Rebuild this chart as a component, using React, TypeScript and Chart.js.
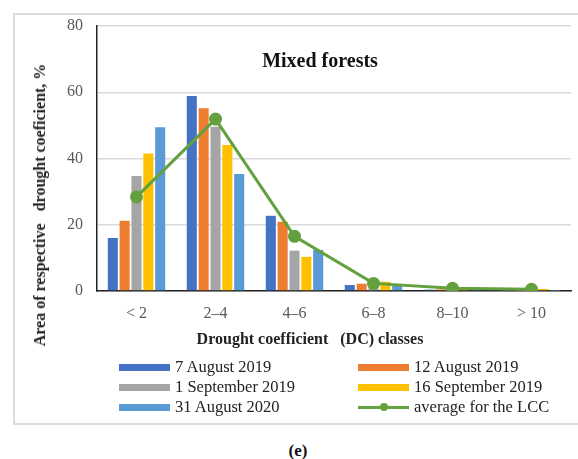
import React, { useEffect, useRef } from "react";
import { Chart, registerables } from "chart.js";

Chart.register(...registerables);

const categories = ["< 2", "2–4", "4–6", "6–8", "8–10", "> 10"];
const aug7_2019 = [16.0, 58.9, 22.7, 1.8, 0.4, 0.1];
const aug12_2019 = [21.2, 55.2, 20.9, 2.2, 0.5, 0.1];
const sep1_2019 = [34.7, 49.6, 12.2, 2.0, 0.4, 0.1];
const sep16_2019 = [41.5, 44.1, 10.3, 2.8, 0.5, 0.6];
const aug31_2020 = [49.4, 35.3, 12.4, 1.7, 0.3, 0.1];
const averageLCC = [28.4, 51.9, 16.5, 2.3, 0.8, 0.5];
const yTicks = [0, 20, 40, 60, 80];

const seriesNames = [
  "7 August 2019",
  "12 August 2019",
  "1 September 2019",
  "16 September 2019",
  "31 August 2020",
  "average for the LCC",
];
const colors = ["#4472C4", "#ED7D31", "#A5A5A5", "#FFC000", "#5B9BD5", "#63A03E"];

const FONT = "'Liberation Serif', 'Times New Roman', serif";

export default function App() {
  const ref = useRef<HTMLCanvasElement | null>(null);

  useEffect(() => {
    if (!ref.current) return;
    const barSets = [aug7_2019, aug12_2019, sep1_2019, sep16_2019, aug31_2020];
    const chart = new Chart(ref.current, {
      type: "bar",
      data: {
        labels: categories,
        datasets: [
          ...barSets.map((d, i) => ({
            type: "bar" as const,
            label: seriesNames[i],
            data: d,
            backgroundColor: colors[i],
            order: 1,
            categoryPercentage: 0.75,
            barPercentage: 0.85,
          })),
          {
            type: "line" as const,
            label: seriesNames[5],
            data: averageLCC,
            borderColor: colors[5],
            backgroundColor: colors[5],
            borderWidth: 3,
            pointRadius: 6.5,
            pointBorderWidth: 0,
            order: 0,
          },
        ] as any,
      },
      options: {
        responsive: false,
        animation: false,
        layout: { padding: { left: 0, right: 7, top: 26, bottom: 0 } },
        plugins: { legend: { display: false }, tooltip: { enabled: false }, title: { display: false } },
        scales: {
          x: {
            grid: { display: false, drawTicks: false },
            border: { display: true, color: "#222", width: 1.5 },
            ticks: { color: "#595959", font: { family: FONT, size: 16 }, padding: 13 },
            afterFit: (s: any) => {
              s.height = 59;
            },
          },
          y: {
            min: 0,
            max: 80,
            afterBuildTicks: (s: any) => {
              s.ticks = yTicks.map((v) => ({ value: v }));
            },
            grid: { color: "#d9d9d9", lineWidth: 1.5, drawTicks: false },
            border: { display: true, color: "#222", width: 1.5 },
            ticks: { color: "#595959", font: { family: FONT, size: 16 }, padding: 14 },
            afterFit: (s: any) => {
              s.width = 97;
            },
          },
        },
      },
    });
    return () => chart.destroy();
  }, []);

  const legendRow = (i: number, x: number, y: number) => (
    <div key={i} style={{ position: "absolute", left: x, top: y - 10, height: 20, display: "flex", alignItems: "center" }}>
      <div style={{ width: 51, height: 20, position: "relative" }}>
        {i < 5 ? (
          <div style={{ position: "absolute", left: 0, top: 6.5, width: 51, height: 7, background: colors[i] }} />
        ) : (
          <>
            <div style={{ position: "absolute", left: 0, top: 8.5, width: 51, height: 3, background: colors[i] }} />
            <div style={{ position: "absolute", left: 21.5, top: 6, width: 8, height: 8, borderRadius: 4, background: colors[i] }} />
          </>
        )}
      </div>
      <span style={{ marginLeft: 5, fontSize: 16.5, color: "#222", whiteSpace: "nowrap", fontFamily: FONT }}>{seriesNames[i]}</span>
    </div>
  );

  return (
    <div style={{ position: "fixed", left: 0, top: 0, width: 578, height: 459, background: "#fff", overflow: "hidden", fontFamily: FONT }}>
      <div style={{ position: "absolute", left: 13, top: 13, width: 700, height: 412, border: "2px solid #dcdcdc", boxSizing: "border-box" }} />
      <canvas ref={ref} width={578} height={350} style={{ position: "absolute", left: 0, top: 0 }} />
      <div style={{ position: "absolute", left: 320, top: 60, transform: "translate(-50%, -50%)", fontWeight: "bold", fontSize: 20, whiteSpace: "nowrap", color: "#111" }}>
        Mixed forests
      </div>
      <div style={{ position: "absolute", left: 40, top: 205, transform: "translate(-50%, -50%) rotate(-90deg)", fontWeight: "bold", fontSize: 16, whiteSpace: "pre", color: "#222" }}>
        {"Area of respective   drought coeficient, %"}
      </div>
      <div style={{ position: "absolute", left: 310, top: 339, transform: "translate(-50%, -50%)", fontWeight: "bold", fontSize: 16, whiteSpace: "pre", color: "#222" }}>
        {"Drought coefficient   (DC) classes"}
      </div>
      {legendRow(0, 119, 367)}
      {legendRow(1, 358, 367)}
      {legendRow(2, 119, 387)}
      {legendRow(3, 358, 387)}
      {legendRow(4, 119, 407)}
      {legendRow(5, 358, 407)}
      <div style={{ position: "absolute", left: 298, top: 451, transform: "translate(-50%, -50%)", fontWeight: "bold", fontSize: 17, color: "#111" }}>
        (e)
      </div>
    </div>
  );
}
